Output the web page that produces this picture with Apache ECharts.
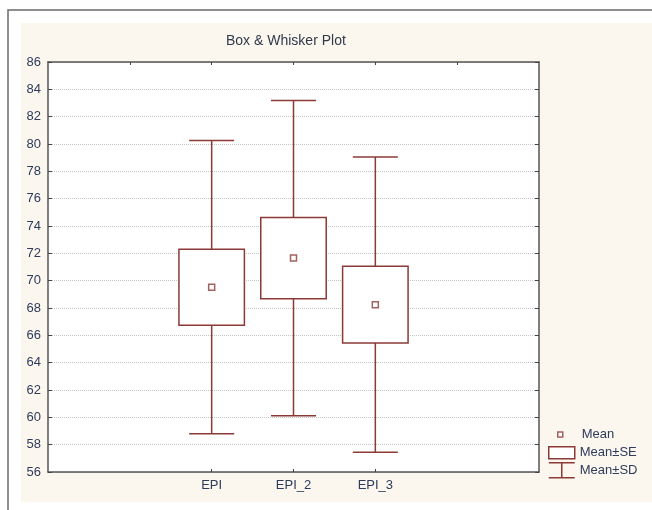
<!DOCTYPE html>
<html>
<head>
<meta charset="utf-8">
<script src="https://cdn.jsdelivr.net/npm/echarts@6/dist/echarts.min.js"></script>
<style>
  html, body { margin: 0; padding: 0; background: #fff; }
  #chart { width: 652px; height: 510px; }
</style>
</head>
<body>
<div id="chart"></div>
<script>
// Groups and their summary statistics
const categories = ['EPI', 'EPI_2', 'EPI_3'];
const means = [69.52, 71.65, 68.24];
const stdErrors = [2.78, 2.98, 2.81];
const stdDevs = [10.73, 11.53, 10.80];

// Y axis range and tick step
const yMin = 56;
const yMax = 86;
const yStep = 2;

const markColor = '#8b3a36';
const textColor = '#2d3b5c';
const font = 'Liberation Sans, Arial, sans-serif';

// rows: [position, mean, se, sd]
const rows = categories.map((c, i) => [i, means[i], stdErrors[i], stdDevs[i]]);

const chart = echarts.init(document.getElementById('chart'));

function whiskers(params, api) {
  const x = api.value(0), m = api.value(1), sd = api.value(3);
  const top = api.coord([x, m + sd]);
  const bot = api.coord([x, m - sd]);
  const capW = api.size([0.55, 0])[0];
  const style = { stroke: markColor, lineWidth: 1.5, fill: null };
  return {
    type: 'group',
    children: [
      { type: 'line', shape: { x1: top[0], y1: top[1], x2: bot[0], y2: bot[1] }, style },
      { type: 'line', shape: { x1: top[0] - capW / 2, y1: top[1], x2: top[0] + capW / 2, y2: top[1] }, style },
      { type: 'line', shape: { x1: bot[0] - capW / 2, y1: bot[1], x2: bot[0] + capW / 2, y2: bot[1] }, style }
    ]
  };
}

function boxes(params, api) {
  const x = api.value(0), m = api.value(1), se = api.value(2);
  const hi = api.coord([x, m + se]);
  const lo = api.coord([x, m - se]);
  const w = api.size([0.8, 0])[0];
  return {
    type: 'rect',
    shape: { x: hi[0] - w / 2, y: hi[1], width: w, height: lo[1] - hi[1] },
    style: { fill: '#fff', stroke: markColor, lineWidth: 1.5 }
  };
}

const legendText = { color: textColor, fontSize: 13, fontFamily: font };

const axisLineStyle = { color: '#555', width: 1.5 };

chart.setOption({
  backgroundColor: '#fff',
  animation: false,
  graphic: [
    { type: 'rect', z: -10, shape: { x: 21, y: 23, width: 631, height: 479 }, style: { fill: '#fcf7ee' } },
    { type: 'polyline', z: -9, shape: { points: [[8, 510], [8, 10], [652, 10]] }, style: { stroke: '#6a6a6a', lineWidth: 1.5, fill: null } }
  ],
  title: {
    text: 'Box & Whisker Plot',
    left: 226,
    top: 34,
    padding: 0,
    textStyle: { color: '#2f3a4c', fontSize: 14, fontWeight: 'normal', fontFamily: font }
  },
  legend: [
    {
      left: 557, top: 428, padding: 0, itemWidth: 5, itemHeight: 5, selectedMode: false,
      textStyle: Object.assign({ padding: [0, 0, 0, 14] }, legendText),
      data: [{ name: 'Mean', icon: 'rect', itemStyle: { color: '#fff', borderColor: markColor, borderWidth: 1.5 } }]
    },
    {
      left: 548, top: 446, padding: 0, itemWidth: 26, itemHeight: 12, selectedMode: false,
      textStyle: legendText,
      data: [{ name: 'Mean±SE', icon: 'rect', itemStyle: { color: '#fff', borderColor: markColor, borderWidth: 1.5 } }]
    },
    {
      left: 548, top: 462, padding: 0, itemWidth: 26, itemHeight: 15, selectedMode: false,
      textStyle: legendText,
      data: [{ name: 'Mean±SD', icon: 'path://M0,0H26M13,0V15M0,15H26', itemStyle: { color: 'rgba(0,0,0,0)', borderColor: markColor, borderWidth: 1.5 } }]
    }
  ],
  grid: {
    left: 48, right: 113, top: 62, bottom: 38,
    show: true, backgroundColor: '#fff', borderWidth: 0
  },
  xAxis: [
    {
      type: 'value', position: 'bottom',
      min: -2, max: 4, interval: 1,
      axisLine: { onZero: false, lineStyle: axisLineStyle },
      axisTick: { inside: true, length: 3, lineStyle: { color: '#444' }, customValues: [0, 1, 2] },
      axisLabel: {
        customValues: [0, 1, 2],
        formatter: v => categories[v] || '',
        color: textColor, fontSize: 13, fontFamily: font, margin: 7
      },
      splitLine: { show: false }
    },
    {
      type: 'value', position: 'top',
      min: -2, max: 4, interval: 1,
      axisLine: { onZero: false, lineStyle: axisLineStyle },
      axisTick: { inside: true, length: 3, lineStyle: { color: '#444' }, customValues: [-1, 0, 1, 2, 3] },
      axisLabel: { show: false },
      splitLine: { show: false }
    }
  ],
  yAxis: [
    {
      type: 'value', position: 'left',
      min: yMin, max: yMax, interval: yStep,
      axisLine: { show: true, onZero: false, lineStyle: axisLineStyle },
      axisTick: { show: true, inside: true, length: 4, lineStyle: { color: '#444' } },
      axisLabel: { color: textColor, fontSize: 13, fontFamily: font, margin: 7 },
      splitLine: { show: true, lineStyle: { color: '#c4c4c4', type: 'dotted', width: 1 } }
    },
    {
      type: 'value', position: 'right',
      min: yMin, max: yMax, interval: yStep,
      axisLine: { show: true, onZero: false, lineStyle: axisLineStyle },
      axisTick: { show: true, inside: true, length: 4, lineStyle: { color: '#444' } },
      axisLabel: { show: false },
      splitLine: { show: false }
    }
  ],
  series: [
    {
      name: 'Mean±SD', type: 'custom', renderItem: whiskers,
      data: rows, encode: { x: 0, y: 1 }, z: 2,
      itemStyle: { color: markColor }
    },
    {
      name: 'Mean±SE', type: 'custom', renderItem: boxes,
      data: rows, encode: { x: 0, y: 1 }, z: 3,
      itemStyle: { color: markColor }
    },
    {
      name: 'Mean', type: 'scatter', z: 4,
      data: rows.map(r => [r[0], r[1]]),
      symbol: 'rect', symbolSize: 6,
      itemStyle: { color: '#fff', borderColor: markColor, borderWidth: 1.5 }
    }
  ]
});
</script>
</body>
</html>
